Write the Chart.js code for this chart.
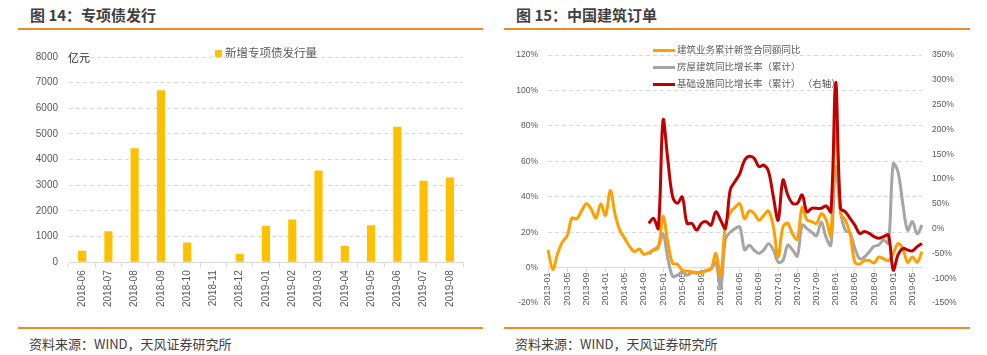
<!DOCTYPE html>
<html><head><meta charset="utf-8">
<script src="https://cdn.jsdelivr.net/npm/chart.js@4.4.0/dist/chart.umd.min.js"></script>
<style>
body{margin:0;background:#fff;width:987px;height:355px;position:relative;overflow:hidden;font-family:"Noto Sans CJK SC",sans-serif;}
.abs{position:absolute;white-space:nowrap;line-height:1;}
.title{font-size:15px;font-weight:bold;color:#404040;}
.rule{position:absolute;height:2px;background:#F08A24;}
.foot{font-size:13px;color:#404040;}
.box{position:absolute;}
.lg2{position:absolute;font-size:9.5px;color:#595959;line-height:1;white-space:pre;}
.seg{display:inline-block;width:22px;height:3px;vertical-align:middle;margin-right:2px;}
</style></head><body>
<div class="abs title" style="left:30px;top:7px">图 14：专项债发行</div>
<div class="abs title" style="left:516px;top:7px">图 15：中国建筑订单</div>
<div class="rule" style="left:18px;top:28px;width:465px"></div>
<div class="rule" style="left:504px;top:28px;width:466px"></div>
<div class="rule" style="left:18px;top:327px;width:465px"></div>
<div class="rule" style="left:504px;top:327px;width:466px"></div>
<div class="abs foot" style="left:29px;top:337px">资料来源：WIND，天风证券研究所</div>
<div class="abs foot" style="left:515px;top:337px">资料来源：WIND，天风证券研究所</div>

<div class="box" style="left:0;top:40px;width:490px;height:285px"><canvas id="c1"></canvas></div>
<div class="box" style="left:495px;top:40px;width:492px;height:285px"><canvas id="c2"></canvas></div>

<div class="abs" style="left:215px;top:50px;width:7px;height:7px;background:#FFC000"></div>
<div class="abs" style="left:225px;top:47px;font-size:11.5px;color:#595959">新增专项债发行量</div>
<div class="abs" style="left:68px;top:52px;font-size:11px;color:#262626">亿元</div>

<div class="lg2" style="left:653px;top:45px"><span class="seg" style="background:#FF9F00"></span>建筑业务累计新签合同额同比</div>
<div class="lg2" style="left:653px;top:62px"><span class="seg" style="background:#A5A5A5"></span>房屋建筑同比增长率（累计）</div>
<div class="lg2" style="left:653px;top:79px"><span class="seg" style="background:#C00000"></span>基础设施同比增长率（累计） （右轴）</div>

<script>
const months1 = ['2018-06','2018-07','2018-08','2018-09','2018-10','2018-11','2018-12','2019-01','2019-02','2019-03','2019-04','2019-05','2019-06','2019-07','2019-08'];
const issuance = [452,1214,4444,6705,775,0,323,1421,1667,3579,646,1447,5284,3178,3307];

const months2 = [
'2013-01','2013-02','2013-03','2013-04','2013-05','2013-06','2013-07','2013-08','2013-09','2013-10','2013-11','2013-12',
'2014-01','2014-02','2014-03','2014-04','2014-05','2014-06','2014-07','2014-08','2014-09','2014-10','2014-11','2014-12',
'2015-01','2015-02','2015-03','2015-04','2015-05','2015-06','2015-07','2015-08','2015-09','2015-10','2015-11','2015-12',
'2016-01','2016-02','2016-03','2016-04','2016-05','2016-06','2016-07','2016-08','2016-09','2016-10','2016-11','2016-12',
'2017-01','2017-02','2017-03','2017-04','2017-05','2017-06','2017-07','2017-08','2017-09','2017-10','2017-11','2017-12',
'2018-01','2018-02','2018-03','2018-04','2018-05','2018-06','2018-07','2018-08','2018-09','2018-10','2018-11','2018-12',
'2019-01','2019-02','2019-03','2019-04','2019-05','2019-06','2019-07'];
const constructionOrders = [
10,-1,8,14.5,18,28,27.5,32,36,33,28,36,
29.5,43.5,30,21,16.5,12,9,10.5,7.5,8.5,10,11,
29,14,2.3,1.9,-1.5,-2,-2.4,-3,-3,-1.5,-1,8,
-5,24,31,34,36,27.6,32,30.5,26.7,29.5,32,23,
6,23,25,19,16,34,27,26,25,30.5,27,18,
87,30.5,27,19,3,2,4,4,2.6,6,5,4,
8,13.5,10.7,3,6,3,9];
const housingGrowth = [
null,null,null,null,null,null,null,null,null,null,null,null,
null,null,null,null,null,null,null,null,null,7.5,10,12,
19,5,-5,-4.3,-2.4,-4.3,-3,-3,-2.4,-2,-0.6,3,
-12,16,20,22,23,10,12.6,9.8,8,10,13.5,10,
3,4,12.6,10,6.5,24,22,20,18,25.8,17,12.6,
57,32,21,19.5,11,5,6,9,12,12.8,15.6,13.7,
58.5,54,36,21,26,19,24];
const infraGrowth = [
null,null,null,null,null,null,null,null,null,null,null,null,
null,null,null,null,null,null,null,null,null,10.6,20.7,0.5,
219,138,64,51,64,10.6,10.6,-3,10.6,14,7,34,
17,0.5,78,95,111,138,146,142,125,128,115,64,
17,98,68,51,51,68,34,41,41,41,45.6,34,
295,41,34,20.7,7,-9.6,-6,-9.6,-16,-19.6,-16,-13,
-83.5,-53,-40,-43,-45,-36.4,-30];
const leftTicks2 = [-20,120,20];
const rightTicks2 = [-150,350,50];

const numFont = "'Liberation Sans','Noto Sans CJK SC',sans-serif";
const tickColor = '#595959';
const gridColor = '#d9d9d9';

new Chart(document.getElementById('c1'), {
  type: 'bar',
  data: { labels: months1, datasets: [{ label: '新增专项债发行量', data: issuance, backgroundColor: '#FFC000', categoryPercentage: 1, barPercentage: 0.31 }] },
  options: {
    animation: false, responsive: true, maintainAspectRatio: false,
    layout: { padding: { top: 16.7, right: 27, left: 0, bottom: 0 } },
    plugins: { legend: { display: false }, tooltip: { enabled: false } },
    scales: {
      x: {
        grid: { drawOnChartArea: false, drawTicks: true, tickLength: 5, color: gridColor, offset: true },
        border: { color: gridColor },
        ticks: { autoSkip: false, minRotation: 90, maxRotation: 90, padding: 3, color: tickColor, font: { family: numFont, size: 10 } },
        afterFit(s) { s.height = 62.7; }
      },
      y: {
        min: 0, max: 8000,
        ticks: { stepSize: 1000, padding: 11, color: tickColor, font: { family: numFont, size: 10 }, callback: v => String(v) },
        grid: { drawTicks: false, color: c => c.tick.value === 0 ? 'rgba(0,0,0,0)' : gridColor },
        border: { display: false, dash: [4, 3] },
        afterFit(s) { s.width = 69; }
      }
    }
  }
});

new Chart(document.getElementById('c2'), {
  type: 'line',
  data: {
    labels: months2,
    datasets: [
      { label: '建筑业务累计新签合同额同比', data: constructionOrders, borderColor: '#FF9F00', borderWidth: 3, pointRadius: 0, tension: 0.35, yAxisID: 'y', order: 2 },
      { label: '房屋建筑同比增长率（累计）', data: housingGrowth, borderColor: '#A5A5A5', borderWidth: 3, pointRadius: 0, tension: 0.35, yAxisID: 'y', order: 3 },
      { label: '基础设施同比增长率（累计）（右轴）', data: infraGrowth, borderColor: '#C00000', borderWidth: 3, pointRadius: 0, tension: 0.35, yAxisID: 'y2', order: 1 }
    ]
  },
  options: {
    animation: false, responsive: true, maintainAspectRatio: false,
    layout: { padding: { top: 15, right: 0, left: 0, bottom: 22 } },
    plugins: { legend: { display: false }, tooltip: { enabled: false } },
    scales: {
      x: {
        type: 'category', position: { y: 0 }, offset: false,
        grid: { drawOnChartArea: false, drawTicks: true, tickLength: 4, color: c => (c.index % 4 === 0 ? gridColor : 'rgba(0,0,0,0)') },
        border: { color: gridColor },
        ticks: { autoSkip: false, minRotation: 90, maxRotation: 90, padding: 1, color: tickColor, font: { family: numFont, size: 9 },
          callback: (v, i) => (i % 4 === 0 ? months2[i] : '') }
      },
      y: {
        position: 'left', min: leftTicks2[0], max: leftTicks2[1],
        ticks: { stepSize: leftTicks2[2], padding: 10, color: tickColor, font: { family: numFont, size: 8.5 }, callback: v => v + '%' },
        grid: { drawTicks: false, color: c => (c.tick.value === 0 || c.tick.value === -20) ? 'rgba(0,0,0,0)' : gridColor },
        border: { display: false, dash: [4, 3] },
        afterFit(s) { s.width = 53; }
      },
      y2: {
        position: 'right', min: rightTicks2[0], max: rightTicks2[1],
        ticks: { stepSize: rightTicks2[2], padding: 10, color: tickColor, font: { family: numFont, size: 8.5 }, callback: v => v + '%' },
        grid: { display: false, drawTicks: false },
        border: { display: false },
        afterFit(s) { s.width = 65; }
      }
    }
  }
});
</script>
</body></html>
